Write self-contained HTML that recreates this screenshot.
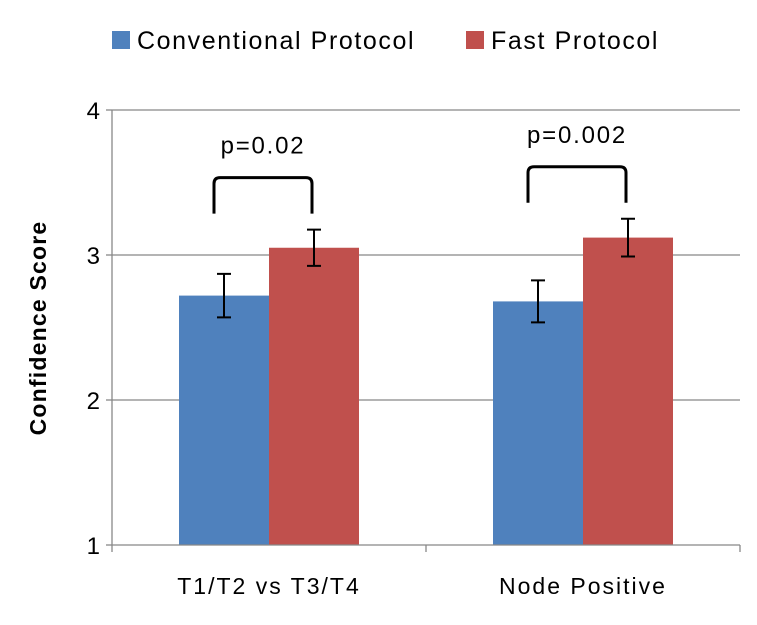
<!DOCTYPE html>
<html><head><meta charset="utf-8"><style>
body{margin:0;background:#fff;width:757px;height:620px;overflow:hidden}
text{font-family:"Liberation Sans",sans-serif}
</style></head><body>
<svg id="chart" width="757" height="620"></svg>
<script>
const categories=["T1/T2 vs T3/T4","Node Positive"];
const seriesNames=["Conventional Protocol","Fast Protocol"];
const conventional=[2.72,2.68];
const fast=[3.05,3.12];
const convErr=[0.15,0.145];
const fastErr=[0.125,0.13];
const pLabels=["p=0.02","p=0.002"];
const yTicks=[1,2,3,4];
const colors=["#4f81bd","#c0504d"];
const NS="http://www.w3.org/2000/svg";
const svg=document.getElementById('chart');
const x0=112,x1=740,yTop=110,yBot=545,ymin=1,ymax=4;
const y=v=>yBot-(v-ymin)/(ymax-ymin)*(yBot-yTop);
const groupW=(x1-x0)/categories.length;
const barW=90;
const bx=(i,s)=>x0+groupW*i+groupW/2-barW+s*barW;
function el(t,a,p){const e=document.createElementNS(NS,t);for(const k in a)e.setAttribute(k,a[k]);(p||svg).appendChild(e);return e;}
yTicks.forEach(t=>{
 if(t>ymin){const g=el('line',{x1:x0,x2:x1,y1:y(t),y2:y(t),stroke:'#888','stroke-width':1.3});
 
 }
 const tk=el('line',{x1:x0-6,x2:x0,y1:y(t),y2:y(t),stroke:'#888','stroke-width':1.3});
 
 
 const tx=el('text',{x:x0-12,y:y(t)+9,'text-anchor':'end','font-size':24});tx.textContent=t;
 
 
});
const ya=el('line',{x1:x0,x2:x0,y1:yTop,y2:yBot,stroke:'#888','stroke-width':1.3});


const series=[conventional,fast],errs=[convErr,fastErr];
categories.forEach((c,i)=>{
 series.forEach((vals,s)=>{
  const X=bx(i,s),v=vals[i];
  const r=el('rect',{x:X,y:y(v),width:barW,height:yBot-y(v),fill:colors[s]});
  
  
  const cx=X+barW/2,e=errs[s][i];
  const eb=el('path',{d:`M${cx},${y(v+e)}V${y(v-e)}M${cx-7},${y(v+e)}H${cx+7}M${cx-7},${y(v-e)}H${cx+7}`,stroke:'#000','stroke-width':2,fill:'none'});
  
  
 });
 const l=bx(i,0)+barW/2-10,r2=bx(i,1)+barW/2-2;
 const top=Math.min(y(conventional[i]+convErr[i]),y(fast[i]+fastErr[i]))-52;
 const br=el('path',{d:`M${l},${top+36}V${top+6}Q${l},${top} ${l+6},${top}H${r2-6}Q${r2},${top} ${r2},${top+6}V${top+36}`,stroke:'#000','stroke-width':3,fill:'none'});
 
 
 const pt=el('text',{x:(l+r2)/2,y:top-24,'text-anchor':'middle','font-size':24,'letter-spacing':1.8});pt.textContent=pLabels[i];
 
 
 const ct=el('text',{x:bx(i,1),y:594,'text-anchor':'middle','font-size':23,'letter-spacing':2});ct.textContent=c;
 
 
});
const xa=el('line',{x1:x0,x2:x1,y1:yBot,y2:yBot,stroke:'#888','stroke-width':1.3});


[x0,(x0+x1)/2,x1].forEach((xx,k)=>{const t=el('line',{x1:xx,x2:xx,y1:yBot,y2:yBot+7,stroke:'#888','stroke-width':1.3});
 
 });
const yt=el('text',{x:46,y:328,'text-anchor':'middle','font-size':23,'font-weight':'bold','letter-spacing':1.2,transform:'rotate(-90 46 328)'});yt.textContent='Confidence Score';


const lx=[112,466];
seriesNames.forEach((n,s)=>{
 const r=el('rect',{x:lx[s],y:31,width:18,height:18,fill:colors[s]});
 
 
 const t=el('text',{x:lx[s]+25,y:49,'font-size':25,'letter-spacing':1.6});t.textContent=n;
 
 
});
</script>
</body></html>
